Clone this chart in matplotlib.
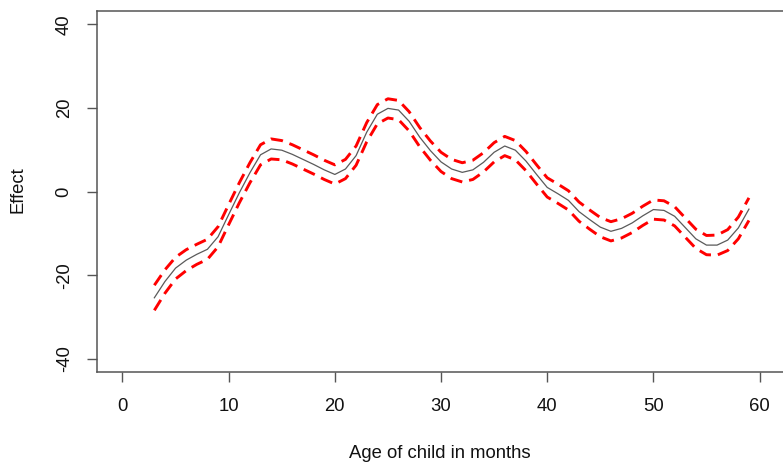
import numpy as np
from matplotlib import pyplot as plt

# age of child (months) and estimated effect
age = list(range(3, 60))
effect = [-25.4, -21.5, -18.3, -16.4, -15.0, -13.8, -10.8, -5.5, -0.3, 4.5,
          8.8, 10.2, 9.9, 8.9, 7.7, 6.5, 5.2, 4.1, 5.4, 8.6,
          14.2, 18.5, 19.9, 19.5, 16.8, 13.0, 9.8, 7.1, 5.4, 4.6,
          5.2, 7.0, 9.4, 10.9, 9.9, 7.3, 4.1, 1.0, -0.5, -2.1,
          -4.8, -6.7, -8.5, -9.5, -8.8, -7.5, -5.8, -4.3, -4.5, -5.9,
          -8.6, -11.3, -12.8, -12.8, -11.6, -8.7, -4.2]
# half width of the confidence band
band = [3.0, 2.8, 2.6, 2.5, 2.4, 2.4, 2.4, 2.4, 2.4, 2.4,
        2.4, 2.4, 2.3, 2.3, 2.3, 2.3, 2.3, 2.3, 2.3, 2.3,
        2.3, 2.3, 2.3, 2.3, 2.3, 2.3, 2.3, 2.3, 2.3, 2.3,
        2.3, 2.3, 2.3, 2.3, 2.3, 2.3, 2.3, 2.3, 2.3, 2.3,
        2.3, 2.3, 2.3, 2.3, 2.3, 2.3, 2.3, 2.3, 2.3, 2.3,
        2.3, 2.3, 2.3, 2.4, 2.5, 2.6, 2.7]

x_ticks = [0, 10, 20, 30, 40, 50, 60]
y_ticks = [-40, -20, 0, 20, 40]

plt.rcParams['font.family'] = ['Liberation Sans', 'DejaVu Sans']

fig = plt.figure(figsize=(7.83, 4.67), dpi=100)
ax = fig.add_axes([0.1239, 0.2030, 0.8787, 0.7735])

eff = np.array(effect)
bw = np.array(band)
ax.plot(age, eff, color='#5a5a5a', lw=0.9)
# upper / lower bounds, dashed red
ax.plot(age, eff + bw, color='#ff0000', lw=2.1, dashes=(4.2, 2.4))
ax.plot(age, eff - bw, color='#ff0000', lw=2.1, dashes=(4.2, 2.4))

ax.set_xlim(-2.4, 62.4)
ax.set_ylim(-43.2, 43.2)
ax.set_xticks(x_ticks)
ax.set_yticks(y_ticks)
ax.set_yticklabels([str(v) for v in y_ticks], rotation=90, va='center')

for s in ax.spines.values():
    s.set_color('#555555')
    s.set_linewidth(1.1)
ax.tick_params(direction='out', length=7.5, width=1.0, color='#555555',
               labelsize=13.3, labelcolor='#111111')
ax.tick_params(axis='x', pad=11)
ax.tick_params(axis='y', pad=10)

fig.text(440 / 783, 1 - 453 / 467, 'Age of child in months', ha='center',
         va='center', fontsize=13.3, color='#111111')
fig.text(18 / 783, 1 - 190 / 467, 'Effect', ha='center', va='center',
         rotation=90, fontsize=13.3, color='#111111')

plt.savefig('out.png', dpi=100)
